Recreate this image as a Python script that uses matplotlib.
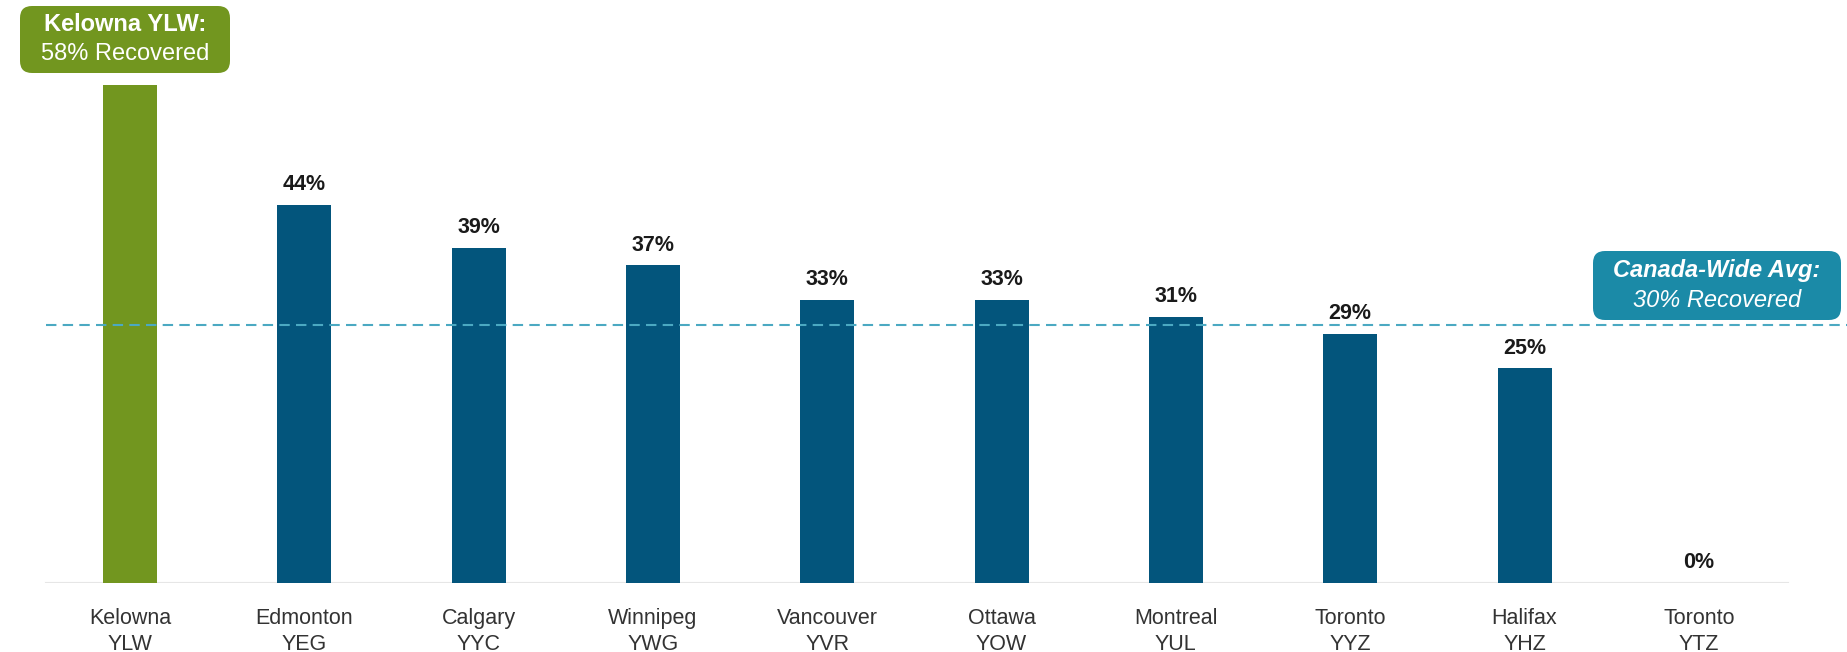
import matplotlib
matplotlib.use("Agg")
import numpy as np
from matplotlib import pyplot as plt
from matplotlib.patches import FancyBboxPatch

# Data
cities = ["Kelowna", "Edmonton", "Calgary", "Winnipeg", "Vancouver",
          "Ottawa", "Montreal", "Toronto", "Halifax", "Toronto"]
codes = ["YLW", "YEG", "YYC", "YWG", "YVR", "YOW", "YUL", "YYZ", "YHZ", "YTZ"]
recovered = [58, 44, 39, 37, 33, 33, 31, 29, 25, 0]
canada_avg = 30

green = "#72961f"
navy = "#03557c"
teal = "#1b8aa7"
dash_col = "#4ba9c2"

plt.rcParams["font.family"] = ["Liberation Sans", "DejaVu Sans"]

W, H = 1847, 652
fig = plt.figure(figsize=(W / 100, H / 100), dpi=100)
ax = fig.add_axes([0, 69 / H, 1, 583 / H])

x = np.arange(len(cities))
colors = [green] + [navy] * (len(cities) - 1)
ax.bar(x, recovered, width=0.31, color=colors, zorder=2)

# value labels (Kelowna gets the callout box instead)
for xi, v in zip(x[1:], recovered[1:]):
    ax.annotate(f"{v}%", (xi, v), xytext=(0, 7), textcoords="offset points",
                ha="center", va="bottom", fontsize=15.5, fontweight="bold",
                color="#1a1a1a")

# baseline and average line
ax.axhline(0, xmin=0.025, xmax=0.968, color="#e6e6e6", lw=1.5, zorder=1)
ax.axhline(canada_avg, xmin=0.025, xmax=1, color=dash_col, lw=1.5,
           ls=(0, (5, 3)), zorder=3)

# category labels
for xi, c, k in zip(x, cities, codes):
    ax.text(xi, -2.9, f"{c}\n{k}", ha="center", va="top", fontsize=15.5,
            color="#333333", linespacing=1.3, clip_on=False)

ax.set_xlim(-0.746, 9.85)
ax.set_ylim(0, 67.9)
ax.axis("off")


def callout(x0, y0, x1, y1, color, line1, line2, italic):
    # box given in pixels from the top-left corner
    box = FancyBboxPatch((x0 / W, 1 - y1 / H), (x1 - x0) / W, (y1 - y0) / H,
                         boxstyle="round,pad=0,rounding_size=0.0065",
                         transform=fig.transFigure, fc=color, ec="none",
                         mutation_aspect=W / H, zorder=4)
    fig.patches.append(box)
    xc = (x0 + x1) / 2 / W
    ym = (y0 + y1) / 2
    style = "italic" if italic else "normal"
    fig.text(xc, 1 - (ym - 15) / H, line1, ha="center", va="center",
             fontsize=17, fontweight="bold", fontstyle=style, color="white",
             zorder=5)
    fig.text(xc, 1 - (ym + 15) / H, line2, ha="center", va="center",
             fontsize=17, fontstyle=style, color="white", zorder=5)


callout(20, 6, 230, 73, green, "Kelowna YLW:",
        f"{recovered[0]}% Recovered", False)
callout(1593, 251, 1841, 320, teal, "Canada-Wide Avg:",
        f"{canada_avg}% Recovered", True)

fig.savefig("out.png", dpi=100, facecolor="white")
